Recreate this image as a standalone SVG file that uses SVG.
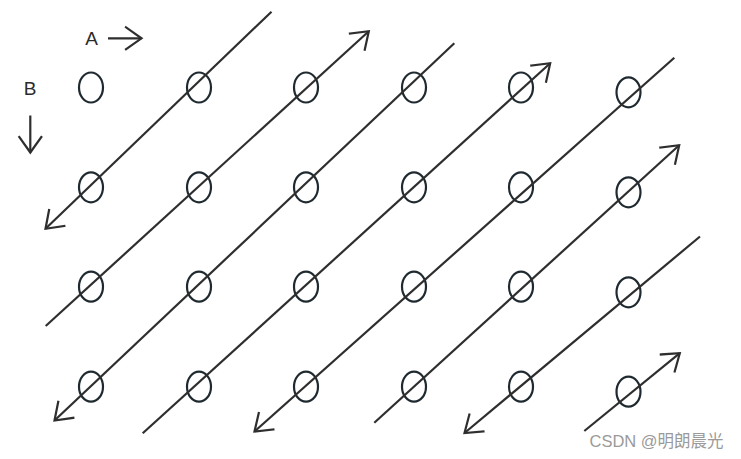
<svg xmlns="http://www.w3.org/2000/svg" width="741" height="459" viewBox="0 0 741 459">
<defs>
<marker id="arr" markerUnits="userSpaceOnUse" markerWidth="40" markerHeight="40" viewBox="-20 -20 40 40" refX="0" refY="0" orient="auto">
<path d="M-15.5,-11 L0,0 L-15.5,11" fill="none" stroke="#2e2e2e" stroke-width="2.2" stroke-linecap="square" stroke-linejoin="miter"/>
</marker>
</defs>
<style>
.ln{stroke:#2e2e2e;stroke-width:2.2;fill:none}
.ar{marker-end:url(#arr)}
.el{fill:none;stroke:#1f2a30;stroke-width:2.2}
.lbl{font-family:"Liberation Sans",Arial,sans-serif;font-size:19px;fill:#2b2b2b}
.wm{font-family:"Liberation Sans","Noto Sans CJK SC",sans-serif;font-size:16.5px;fill:#9a9a9a}
</style>
<rect width="741" height="459" fill="#ffffff"/>
<g id="labels">
<text class="lbl" x="91.5" y="45" text-anchor="middle">A</text>
<text class="lbl" x="30" y="95" text-anchor="middle">B</text>
</g>
<g id="axis-arrows">
<line class="ln ar" x1="108" y1="38.3" x2="141.5" y2="38.3"/>
<line class="ln ar" x1="30.3" y1="115.5" x2="30.3" y2="152.5"/>
</g>
<g id="nodes">
<g id="r1"><ellipse class="el" cx="91" cy="87.5" rx="12" ry="15"/><ellipse class="el" cx="199" cy="87.5" rx="12" ry="15"/><ellipse class="el" cx="306" cy="87.5" rx="12" ry="15"/><ellipse class="el" cx="414" cy="87.5" rx="12" ry="15"/><ellipse class="el" cx="521" cy="87.5" rx="12" ry="15"/><ellipse class="el" cx="628.5" cy="92.3" rx="12" ry="15"/></g>
<g id="r2"><ellipse class="el" cx="91" cy="187.3" rx="12" ry="15"/><ellipse class="el" cx="199" cy="187.3" rx="12" ry="15"/><ellipse class="el" cx="306" cy="187.3" rx="12" ry="15"/><ellipse class="el" cx="414" cy="187.3" rx="12" ry="15"/><ellipse class="el" cx="521" cy="187.3" rx="12" ry="15"/><ellipse class="el" cx="628.5" cy="192.3" rx="12" ry="15"/></g>
<g id="r3"><ellipse class="el" cx="91" cy="286.7" rx="12" ry="15"/><ellipse class="el" cx="199" cy="286.7" rx="12" ry="15"/><ellipse class="el" cx="306" cy="286.7" rx="12" ry="15"/><ellipse class="el" cx="414" cy="286.7" rx="12" ry="15"/><ellipse class="el" cx="521" cy="286.7" rx="12" ry="15"/><ellipse class="el" cx="628.5" cy="292.3" rx="12" ry="15"/></g>
<g id="r4"><ellipse class="el" cx="91" cy="386.7" rx="12" ry="15"/><ellipse class="el" cx="199" cy="386.7" rx="12" ry="15"/><ellipse class="el" cx="306" cy="386.7" rx="12" ry="15"/><ellipse class="el" cx="414" cy="386.7" rx="12" ry="15"/><ellipse class="el" cx="521" cy="386.7" rx="12" ry="15"/><ellipse class="el" cx="628.5" cy="391.7" rx="12" ry="15"/></g>
</g>
<g id="connectors">
<line class="ln ar" x1="271.5" y1="11.7" x2="45.5" y2="228.8"/>
<line class="ln ar" x1="45.7" y1="326" x2="368.8" y2="31.2"/>
<line class="ln ar" x1="454.3" y1="43.3" x2="54.5" y2="420.5"/>
<line class="ln ar" x1="142.7" y1="433.3" x2="550.2" y2="63.2"/>
<line class="ln ar" x1="674.3" y1="57.7" x2="254.5" y2="431.5"/>
<line class="ln ar" x1="374.3" y1="422.7" x2="679.2" y2="145.2"/>
<line class="ln ar" x1="700" y1="236.5" x2="464.5" y2="433"/>
<line class="ln ar" x1="584.3" y1="431" x2="679.8" y2="353.2"/>
</g>
<text class="wm" x="589.5" y="447">CSDN @明朗晨光</text>
</svg>
